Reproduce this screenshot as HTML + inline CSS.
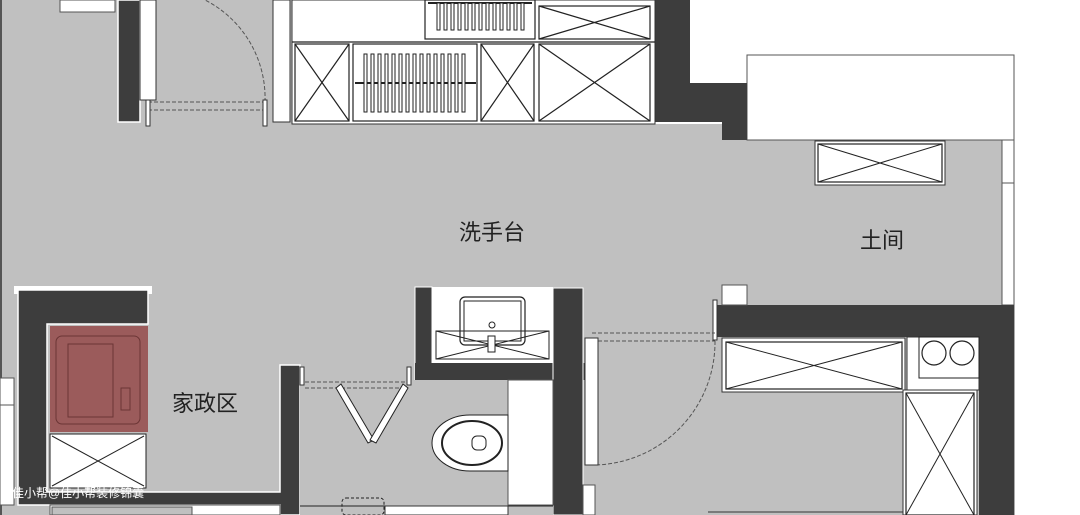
<!DOCTYPE html>
<html><head><meta charset="utf-8"><style>
html,body{margin:0;padding:0;background:#fff;width:1080px;height:515px;overflow:hidden}
svg{display:block}
text{font-family:"Liberation Sans","Noto Sans CJK SC",sans-serif;fill:#222}
</style></head><body>
<svg width="1080" height="515" viewBox="0 0 1080 515" xmlns="http://www.w3.org/2000/svg">
<rect x="0" y="0" width="1080" height="515" fill="#fff"/>
<polygon points="0,0 655,0 655,124 722,124 722,140 1002,140 1002,305 1080,305 1080,515 0,515" fill="#c0c0c0"/>
<rect x="1002" y="140" width="12" height="165" fill="#fff" stroke="#555" stroke-width="1"/>
<line x1="1002" y1="183" x2="1014" y2="183" stroke="#555"/>
<rect x="1014" y="0" width="66" height="515" fill="#fff"/>
<line x1="1014" y1="55" x2="1014" y2="515" stroke="#555"/>
<rect x="0" y="0" width="2" height="515" fill="#555"/>
<rect x="690" y="0" width="324" height="83" fill="#fff"/>
<rect x="747" y="55" width="267" height="85" fill="#fff" stroke="#555"/>
<polygon points="655,0 690,0 690,83 747,83 747,140 722,140 722,122 655,122" fill="#3d3d3d"/>
<rect x="118" y="0" width="22" height="122" fill="#3d3d3d" stroke="#fff" stroke-width="1.5"/>
<rect x="60" y="0" width="55" height="12" fill="#fff" stroke="#555"/>
<rect x="140" y="0" width="16" height="100" fill="#fff" stroke="#333"/>
<line x1="148" y1="102" x2="265" y2="102" stroke="#555" stroke-dasharray="4,2"/>
<line x1="148" y1="110" x2="265" y2="110" stroke="#555" stroke-dasharray="4,2"/>
<path d="M265,102 A110,110 0 0 0 205,0" fill="none" stroke="#555" stroke-dasharray="4,2"/>
<rect x="146" y="100" width="4" height="26" fill="#fff" stroke="#333"/>
<rect x="263" y="100" width="4" height="26" fill="#fff" stroke="#333"/>
<rect x="273" y="0" width="17" height="122" fill="#fff" stroke="#333"/>
<rect x="292" y="0" width="363" height="124" fill="#fff" stroke="#333"/>
<g stroke="#222" fill="none" stroke-width="1.2">
<rect x="295" y="44" width="54" height="77"/><line x1="295" y1="44" x2="349" y2="121"/><line x1="349" y1="44" x2="295" y2="121"/>
<rect x="353" y="44" width="124" height="77"/>
<rect x="481" y="44" width="53" height="77"/><line x1="481" y1="44" x2="534" y2="121"/><line x1="534" y1="44" x2="481" y2="121"/>
<rect x="539" y="44" width="111" height="77"/><line x1="539" y1="44" x2="650" y2="121"/><line x1="650" y1="44" x2="539" y2="121"/>
<rect x="539" y="6" width="111" height="33"/><line x1="539" y1="6" x2="650" y2="39"/><line x1="650" y1="6" x2="539" y2="39"/>
<rect x="425" y="0" width="110" height="39"/>
<line x1="292" y1="42" x2="655" y2="42"/>
<line x1="355" y1="83" x2="476" y2="83" stroke-width="2"/>
<line x1="428" y1="3" x2="532" y2="3" stroke-width="2"/>
</g>
<g fill="#fff" stroke="#222" stroke-width="1">
<rect x="364" y="54" width="3" height="58"/><rect x="371" y="54" width="3" height="58"/><rect x="378" y="54" width="3" height="58"/><rect x="385" y="54" width="3" height="58"/><rect x="392" y="54" width="3" height="58"/><rect x="399" y="54" width="3" height="58"/><rect x="406" y="54" width="3" height="58"/><rect x="413" y="54" width="3" height="58"/><rect x="420" y="54" width="3" height="58"/><rect x="427" y="54" width="3" height="58"/><rect x="434" y="54" width="3" height="58"/><rect x="441" y="54" width="3" height="58"/><rect x="448" y="54" width="3" height="58"/><rect x="455" y="54" width="3" height="58"/><rect x="462" y="54" width="3" height="58"/>
<rect x="437" y="3" width="3" height="27"/><rect x="444" y="3" width="3" height="27"/><rect x="451" y="3" width="3" height="27"/><rect x="458" y="3" width="3" height="27"/><rect x="465" y="3" width="3" height="27"/><rect x="472" y="3" width="3" height="27"/><rect x="479" y="3" width="3" height="27"/><rect x="486" y="3" width="3" height="27"/><rect x="493" y="3" width="3" height="27"/><rect x="500" y="3" width="3" height="27"/><rect x="507" y="3" width="3" height="27"/><rect x="514" y="3" width="3" height="27"/><rect x="521" y="3" width="3" height="27"/>
</g>
<rect x="815" y="141" width="130" height="44" fill="#fff" stroke="#333"/>
<rect x="818" y="144" width="124" height="38" fill="none" stroke="#222" stroke-width="1.2"/>
<line x1="818" y1="144" x2="942" y2="182" stroke="#222"/><line x1="942" y1="144" x2="818" y2="182" stroke="#222"/>
<text x="459" y="240" font-size="22">洗手台</text>
<text x="860" y="248" font-size="22">土间</text>
<text x="172" y="411" font-size="22">家政区</text>
<text x="333" y="466" font-size="22">恭桶间</text>
<rect x="14" y="286" width="138" height="8" fill="#fff"/>
<polygon points="18,290 148,290 148,324 47,324 47,492 280,492 280,365 300,365 300,515 280,515 280,505 18,505" fill="#3d3d3d" stroke="#fff" stroke-width="1.5"/>
<rect x="0" y="378" width="14" height="27" fill="#fff" stroke="#555"/>
<rect x="0" y="405" width="14" height="100" fill="#fff" stroke="#555"/>
<rect x="50" y="326" width="98" height="106" fill="#9b5b5b"/>
<rect x="56" y="336" width="84" height="88" rx="6" fill="none" stroke="#6b3535"/>
<rect x="68" y="344" width="45" height="73" fill="none" stroke="#6b3535"/>
<rect x="121" y="388" width="9" height="22" fill="none" stroke="#6b3535"/>
<rect x="50" y="434" width="96" height="54" fill="#fff" stroke="#222"/>
<line x1="52" y1="436" x2="144" y2="486" stroke="#222"/><line x1="144" y1="436" x2="52" y2="486" stroke="#222"/>
<text x="12" y="497" font-size="12" style="fill:#fff">佳小帮@佳小帮装修锦囊</text>
<rect x="50" y="505" width="230" height="10" fill="#fff" stroke="#555"/>
<rect x="52" y="507" width="140" height="8" fill="#c0c0c0" stroke="#555"/>
<rect x="415" y="287" width="17" height="93" fill="#3d3d3d" stroke="#fff"/>
<rect x="432" y="287" width="121" height="76" fill="#fff"/>
<rect x="415" y="363" width="170" height="17" fill="#3d3d3d"/>
<rect x="553" y="288" width="30" height="227" fill="#3d3d3d" stroke="#fff"/>
<rect x="460" y="297" width="65" height="48" rx="5" fill="none" stroke="#222" stroke-width="1.2"/>
<rect x="464" y="301" width="57" height="40" fill="none" stroke="#222"/>
<rect x="436" y="331" width="113" height="28" fill="none" stroke="#222"/>
<line x1="436" y1="331" x2="549" y2="359" stroke="#222"/><line x1="549" y1="331" x2="436" y2="359" stroke="#222"/>
<circle cx="492" cy="325" r="3" fill="#fff" stroke="#222"/>
<rect x="488" y="336" width="7" height="16" fill="#fff" stroke="#222"/>
<rect x="300" y="380" width="253" height="135" fill="#c0c0c0"/>
<rect x="508" y="380" width="45" height="125" fill="#fff" stroke="#555"/>
<line x1="305" y1="382" x2="408" y2="382" stroke="#555" stroke-dasharray="4,2"/>
<line x1="305" y1="388" x2="408" y2="388" stroke="#555" stroke-dasharray="4,2"/>
<polygon points="336,388 341,384 374,440 368,443" fill="#fff" stroke="#222"/>
<polygon points="403,384 408,388 376,443 370,440" fill="#fff" stroke="#222"/>
<rect x="300" y="367" width="4" height="18" fill="#fff" stroke="#333"/>
<rect x="407" y="367" width="4" height="18" fill="#fff" stroke="#333"/>
<path d="M508,415 L470,415 A38,28 0 0 0 470,471 L508,471 Z" fill="#fff" stroke="#222"/>
<ellipse cx="472" cy="443" rx="30" ry="22" fill="#fff" stroke="#222" stroke-width="2"/>
<rect x="472" y="436" width="14" height="14" rx="5" fill="#fff" stroke="#222"/>
<rect x="342" y="498" width="42" height="17" rx="4" fill="none" stroke="#222" stroke-dasharray="3,2"/>
<line x1="300" y1="506" x2="553" y2="506" stroke="#222"/>
<rect x="385" y="506" width="123" height="9" fill="#fff" stroke="#333"/>
<rect x="715" y="305" width="299" height="32" fill="#3d3d3d"/>
<rect x="979" y="305" width="35" height="210" fill="#3d3d3d"/>
<rect x="722" y="285" width="25" height="20" fill="#fff" stroke="#555"/>
<rect x="713" y="300" width="4" height="40" fill="#fff" stroke="#333"/>
<line x1="592" y1="333" x2="715" y2="333" stroke="#555" stroke-dasharray="4,2"/>
<line x1="592" y1="341" x2="715" y2="341" stroke="#555" stroke-dasharray="4,2"/>
<path d="M715,341 A123,123 0 0 1 592,465" fill="none" stroke="#555" stroke-dasharray="4,2"/>
<rect x="585" y="338" width="13" height="127" fill="#fff" stroke="#333"/>
<rect x="583" y="485" width="12" height="30" fill="#fff" stroke="#555"/>
<rect x="722" y="338" width="183" height="54" fill="#fff" stroke="#333"/>
<rect x="726" y="342" width="176" height="47" fill="none" stroke="#222" stroke-width="1.2"/>
<line x1="726" y1="342" x2="902" y2="389" stroke="#222"/><line x1="902" y1="342" x2="726" y2="389" stroke="#222"/>
<rect x="907" y="337" width="72" height="53" fill="#fff" stroke="#333"/>
<rect x="919" y="337" width="60" height="41" fill="none" stroke="#222"/>
<circle cx="934" cy="353" r="12" fill="none" stroke="#222" stroke-width="1.2"/>
<circle cx="962" cy="353" r="12" fill="none" stroke="#222" stroke-width="1.2"/>
<rect x="903" y="390" width="74" height="125" fill="#fff" stroke="#333"/>
<rect x="906" y="393" width="68" height="122" fill="none" stroke="#222" stroke-width="1.2"/>
<line x1="906" y1="393" x2="974" y2="515" stroke="#222"/><line x1="974" y1="393" x2="906" y2="515" stroke="#222"/>
<line x1="708" y1="512" x2="903" y2="512" stroke="#333"/>
</svg>
</body></html>
